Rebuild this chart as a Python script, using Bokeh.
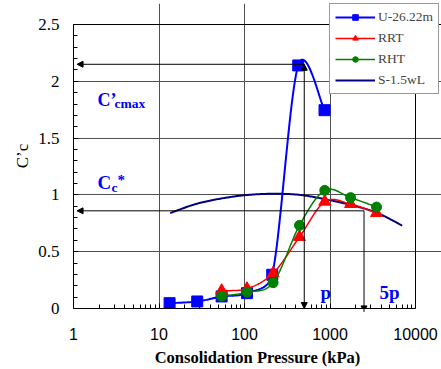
import numpy as np
from bokeh.plotting import figure
from bokeh.models import (FixedTicker, NumeralTickFormatter, Legend, LegendItem,
                          Label, Arrow, NormalHead, Grid)
from bokeh.embed import file_html
from bokeh.resources import INLINE

# Compression index C'c versus consolidation pressure (kPa)
u_pressure = [13.3, 28, 54, 107, 211, 425, 863]
u_cc = [0.047, 0.062, 0.106, 0.135, 0.297, 2.14, 1.746]

rrt_pressure = [54, 107, 216, 440, 869, 1740, 3500]
rrt_cc = [0.157, 0.175, 0.31, 0.63, 0.94, 0.92, 0.84]

rht_pressure = [54, 107, 216, 440, 869, 1740, 3500]
rht_cc = [0.108, 0.144, 0.227, 0.732, 1.04, 0.976, 0.893]

s_pressure = [13.5, 27, 55, 110, 220, 450, 900, 1800, 3600, 7000]
s_cc = [0.84, 0.92, 0.97, 1.0, 1.01, 1.0, 0.96, 0.91, 0.84, 0.73]

x_ticks = [1, 10, 100, 1000, 10000]
y_ticks = [0, 0.5, 1, 1.5, 2, 2.5]

# annotated values
cc_max = 2.15
cc_star = 0.86
p_value = 500
p5_value = 2500

# pixel size of one decade / one unit of C'c
DECADE_PX = 85.5
UNIT_PX = 113.4

# axes box: 1..10000 kPa by 0..2.5; the drawing area runs a little past it
# (up and to the right) so the legend can overhang the box
X_LO, X_HI = x_ticks[0], x_ticks[-1]
Y_LO, Y_HI = y_ticks[0], y_ticks[-1]
EXTRA_RIGHT_PX = 26
EXTRA_TOP_PX = 21


def smooth_path(xs, ys, n=24):
    """Bezier-smoothed connecting line (tangent = neighbour chord / 6,
    capped at half the adjacent segment), built in log-x space."""
    u = np.log10(np.asarray(xs, float)) * DECADE_PX
    v = np.asarray(ys, float) * UNIT_PX
    pts = np.column_stack([u, v])
    m = len(pts)
    seglen = np.hypot(np.diff(u), np.diff(v))
    t = np.linspace(0, 1, n)[1:][:, None]
    out = [pts[0]]
    for i in range(m - 1):
        p1, p2 = pts[i], pts[i + 1]
        p0 = pts[i - 1] if i > 0 else pts[i]
        p3 = pts[i + 2] if i + 2 < m else pts[i + 1]
        d1 = (p2 - p0) / 6.0
        d2 = (p3 - p1) / 6.0
        cap = 0.5 * seglen[i]
        for d in (d1, d2):
            ln = np.hypot(*d)
            if ln > cap:
                d *= cap / ln
        c1 = p1 + d1
        c2 = p2 - d2
        seg = ((1 - t) ** 3) * p1 + 3 * ((1 - t) ** 2) * t * c1 \
            + 3 * (1 - t) * t ** 2 * c2 + t ** 3 * p2
        out.extend(seg)
    out = np.array(out)
    return 10 ** (out[:, 0] / DECADE_PX), out[:, 1] / UNIT_PX


x_end = 10 ** (np.log10(X_HI) + EXTRA_RIGHT_PX / DECADE_PX)
y_end = Y_HI + EXTRA_TOP_PX / UNIT_PX

p = figure(width=441, height=369, x_axis_type="log",
           x_range=(X_LO, x_end), y_range=(Y_LO, y_end),
           output_backend="svg", toolbar_location=None,
           min_border_left=73, min_border_right=26 - EXTRA_RIGHT_PX,
           min_border_top=24 - EXTRA_TOP_PX, min_border_bottom=61)
p.background_fill_color = "white"
p.border_fill_color = "white"
p.outline_line_color = None

# axes
minor_x = [m * 10 ** e for e in range(0, 4) for m in range(2, 10)]
minor_y = [round(0.1 * k, 1) for k in range(0, 26)]
p.xaxis.ticker = FixedTicker(ticks=x_ticks, minor_ticks=minor_x)
p.yaxis.ticker = FixedTicker(ticks=y_ticks, minor_ticks=minor_y)
p.xaxis.formatter = NumeralTickFormatter(format="0")
p.yaxis.formatter = NumeralTickFormatter(format="0.[0]")
xa = p.xaxis[0]
ya = p.yaxis[0]
xa.bounds = (X_LO, X_HI)
ya.bounds = (Y_LO, Y_HI)
for ax in (xa, ya):
    ax.axis_line_color = "black"
    ax.major_tick_line_color = "black"
    ax.minor_tick_line_color = "black"
    ax.major_tick_in = 5
    ax.major_tick_out = 0
    ax.minor_tick_in = 4
    ax.minor_tick_out = 0
    ax.major_label_text_color = "black"
    ax.axis_label_text_color = "black"
    ax.axis_label_text_font = "Liberation Serif"
xa.major_label_text_font = "Liberation Sans"
xa.major_label_text_font_size = "16px"
xa.major_label_standoff = 19
xa.axis_label = "Consolidation Pressure (kPa)"
xa.axis_label_text_font_style = "bold"
xa.axis_label_text_font_size = "16.5px"
xa.axis_label_standoff = 5
ya.major_label_text_font = "Liberation Serif"
ya.major_label_text_font_size = "17px"
ya.major_label_standoff = 14
ya.axis_label = "C\u2019c"
ya.axis_label_text_font_style = "normal"
ya.axis_label_text_font_size = "17px"
ya.axis_label_standoff = 3

# interior grid lines plus the top/right edges of the axes box
p.xgrid.ticker = FixedTicker(ticks=x_ticks[1:-1])
p.ygrid.ticker = FixedTicker(ticks=y_ticks[1:-1])
p.xgrid.bounds = (Y_LO, Y_HI)
p.ygrid.bounds = (X_LO, X_HI)
p.xgrid.grid_line_color = "#505050"
p.ygrid.grid_line_color = "#505050"
p.add_layout(Grid(dimension=0, ticker=FixedTicker(ticks=[X_HI]), bounds=(Y_LO, Y_HI),
                  grid_line_color="black"))
p.add_layout(Grid(dimension=1, ticker=FixedTicker(ticks=[Y_HI]), bounds=(X_LO, X_HI),
                  grid_line_color="black"))

# series
sx, sy = smooth_path(s_pressure, s_cc)
s_line = p.line(sx, sy, line_color="#000080", line_width=2)

ux, uy = smooth_path(u_pressure, u_cc)
u_line = p.line(ux, uy, line_color="#0000FF", line_width=2)
u_pts = p.scatter(u_pressure, u_cc, marker="square", size=11,
                  fill_color="#0000FF", line_color="#0000FF")

rx, ry = smooth_path(rrt_pressure, rrt_cc)
r_line = p.line(rx, ry, line_color="#FF0000", line_width=1.5)
r_pts = p.scatter(rrt_pressure, rrt_cc, marker="triangle", size=12,
                  fill_color="#FF0000", line_color="#FF0000")

gx, gy = smooth_path(rht_pressure, rht_cc)
g_line = p.line(gx, gy, line_color="#008000", line_width=1.5)
g_pts = p.scatter(rht_pressure, rht_cc, marker="circle", size=10,
                  fill_color="#008000", line_color="#008000")


# construction arrows
def head():
    return NormalHead(size=6, fill_color="black", line_color="black")


p.add_layout(Arrow(end=head(), x_start=p_value, y_start=cc_max, x_end=1.1, y_end=cc_max,
                   line_color="black", line_width=1))
p.add_layout(Arrow(start=head(), end=head(), x_start=p_value, y_start=cc_max,
                   x_end=p_value, y_end=0, line_color="black", line_width=1))
p.add_layout(Arrow(end=head(), x_start=p5_value, y_start=cc_star, x_end=1.1, y_end=cc_star,
                   line_color="black", line_width=1))
p.add_layout(Arrow(end=head(), x_start=p5_value, y_start=cc_star, x_end=p5_value, y_end=-0.03,
                   line_color="black", line_width=1))

# legend
legend = Legend(items=[
    LegendItem(label="U-26.22m", renderers=[u_line, u_pts]),
    LegendItem(label="RRT", renderers=[r_line, r_pts]),
    LegendItem(label="RHT", renderers=[g_line, g_pts]),
    LegendItem(label="S-1.5wL", renderers=[s_line]),
], location=(256, 214))
legend.label_text_font = "Liberation Serif"
legend.label_text_font_size = "13.5px"
legend.label_standoff = 3
legend.glyph_width = 40
legend.glyph_height = 14
legend.label_height = 14
legend.spacing = 5
legend.padding = 5
legend.margin = 0
legend.border_line_color = "#333333"
legend.border_line_width = 1
legend.background_fill_color = "white"
legend.background_fill_alpha = 1
p.add_layout(legend, "center")


# text annotations (screen units measured from the frame's bottom-left)
def txt(text, x, y, size, color="black", bold=False):
    p.add_layout(Label(x=x, y=y, x_units="screen", y_units="screen", text=text,
                       text_font="Liberation Serif", text_font_size=size,
                       text_color=color, text_font_style="bold" if bold else "normal",
                       text_baseline="alphabetic", text_align="left"))


blue = "#0000FF"
txt("C\u2019", 24, 209, "18px", blue, True)
txt("cmax", 41, 205, "13.5px", blue, True)
txt("C", 24, 126, "19px", blue, True)
txt("c", 38, 121, "13.5px", blue, True)
txt("*", 44, 129, "15px", blue, True)
txt("p", 247, 16, "19px", blue, True)
txt("5p", 306, 16, "19px", blue, True)

open("out.html", "w").write(file_html(p, INLINE))
